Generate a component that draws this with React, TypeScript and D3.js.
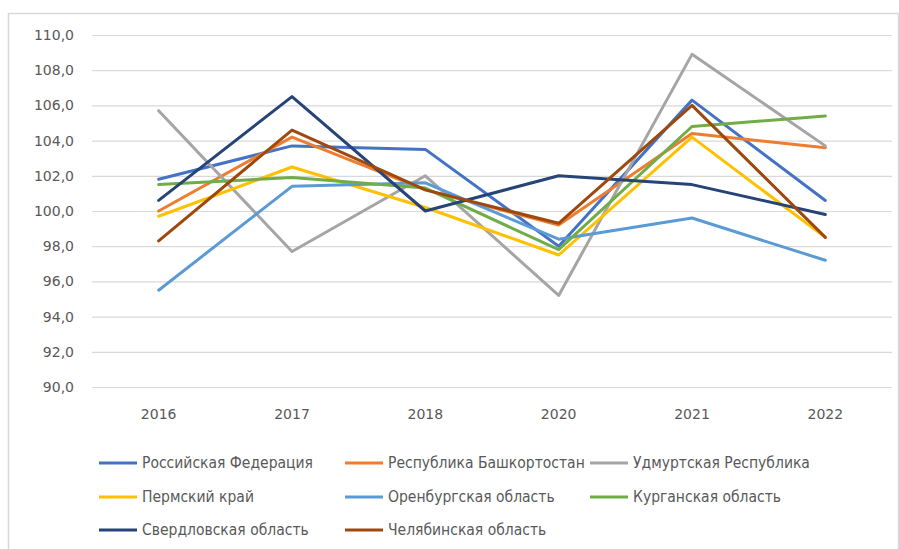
import { useEffect, useRef } from "react";
import * as d3 from "d3";

const years = ["2016", "2017", "2018", "2020", "2021", "2022"];
const yTicks = [90, 92, 94, 96, 98, 100, 102, 104, 106, 108, 110];

const seriesNames = [
  "Российская Федерация",
  "Республика Башкортостан",
  "Удмуртская Республика",
  "Пермский край",
  "Оренбургская область",
  "Курганская область",
  "Свердловская область",
  "Челябинская область",
];
const seriesColors = [
  "#4472C4",
  "#ED7D31",
  "#A5A5A5",
  "#FFC000",
  "#5B9BD5",
  "#70AD47",
  "#264478",
  "#9E480E",
];

const russia = [101.8, 103.7, 103.5, 98.0, 106.3, 100.6];
const bashkortostan = [100.0, 104.2, 101.2, 99.2, 104.4, 103.6];
const udmurtia = [105.7, 97.7, 102.0, 95.2, 108.9, 103.7];
const perm = [99.7, 102.5, 100.2, 97.5, 104.2, 98.5];
const orenburg = [95.5, 101.4, 101.6, 98.4, 99.6, 97.2];
const kurgan = [101.5, 101.9, 101.3, 97.8, 104.8, 105.4];
const sverdlovsk = [100.6, 106.5, 100.0, 102.0, 101.5, 99.8];
const chelyabinsk = [98.3, 104.6, 101.2, 99.3, 106.0, 98.5];

const seriesValues = [russia, bashkortostan, udmurtia, perm, orenburg, kurgan, sverdlovsk, chelyabinsk];

export default function App() {
  const svgRef = useRef<SVGSVGElement | null>(null);

  useEffect(() => {
    document.body.style.margin = "0";
    const width = 899;
    const height = 549;
    const plot = { left: 92, right: 892, top: 35, bottom: 387 };

    const svg = d3.select(svgRef.current);
    svg.selectAll("*").remove();
    svg.attr("width", width).attr("height", height);

    svg.append("rect").attr("width", width).attr("height", height).attr("fill", "#fff");

    // chart frame (bottom runs off the page)
    svg
      .append("rect")
      .attr("x", 8.5)
      .attr("y", 13.5)
      .attr("width", 890)
      .attr("height", 560)
      .attr("fill", "none")
      .attr("stroke", "#d9d9d9")
      .attr("stroke-width", 1.5);

    const xScale = d3.scaleBand().domain(years).range([plot.left, plot.right]);
    const yScale = d3.scaleLinear().domain([90, 110]).range([plot.bottom, plot.top]);

    // gridlines + y labels
    const yAxis = svg
      .append("g")
      .attr("transform", `translate(${plot.left},0)`)
      .call(
        d3
          .axisLeft(yScale)
          .tickValues(yTicks)
          .tickSize(-(plot.right - plot.left))
          .tickPadding(18)
          .tickFormat((d) => d3.format(".1f")(d as number).replace(".", ","))
      );
    yAxis.select(".domain").remove();
    yAxis.selectAll("line").attr("stroke", "#d9d9d9").attr("stroke-width", 1.2);
    yAxis
      .selectAll("text")
      .attr("fill", "#595959")
      .attr("font-size", "14px")
      .attr("font-family", "DejaVu Sans");

    // x labels
    const xAxis = svg
      .append("g")
      .attr("transform", `translate(0,${plot.bottom})`)
      .call(d3.axisBottom(xScale).tickSize(0).tickPadding(22));
    xAxis.select(".domain").remove();
    xAxis
      .selectAll("text")
      .attr("fill", "#595959")
      .attr("font-size", "14px")
      .attr("font-family", "DejaVu Sans");

    const line = d3
      .line<number>()
      .x((_, i) => (xScale(years[i]) ?? 0) + xScale.bandwidth() / 2)
      .y((d) => yScale(d));

    seriesValues.forEach((vals, i) => {
      svg
        .append("path")
        .datum(vals)
        .attr("fill", "none")
        .attr("stroke", seriesColors[i])
        .attr("stroke-width", 3)
        .attr("stroke-linejoin", "round")
        .attr("stroke-linecap", "round")
        .attr("d", line);
    });

    // legend, 3 columns
    const colX = [99, 345, 590];
    const rowY = [463, 497, 530];
    const legend = svg.append("g");
    seriesNames.forEach((name, i) => {
      const x = colX[i % 3];
      const y = rowY[Math.floor(i / 3)];
      const g = legend.append("g").attr("transform", `translate(${x},${y})`);
      g.append("line")
        .attr("x1", 0)
        .attr("x2", 38)
        .attr("stroke", seriesColors[i])
        .attr("stroke-width", 3);
      g.append("text")
        .attr("x", 43)
        .attr("dy", "0.35em")
        .attr("fill", "#595959")
        .attr("font-size", "15.5px")
        .attr("font-family", "DejaVu Sans Condensed")
        .text(name);
    });
  }, []);

  return (
    <div style={{ width: 899, height: 549 }}>
      <svg ref={svgRef} style={{ display: "block" }}></svg>
    </div>
  );
}
